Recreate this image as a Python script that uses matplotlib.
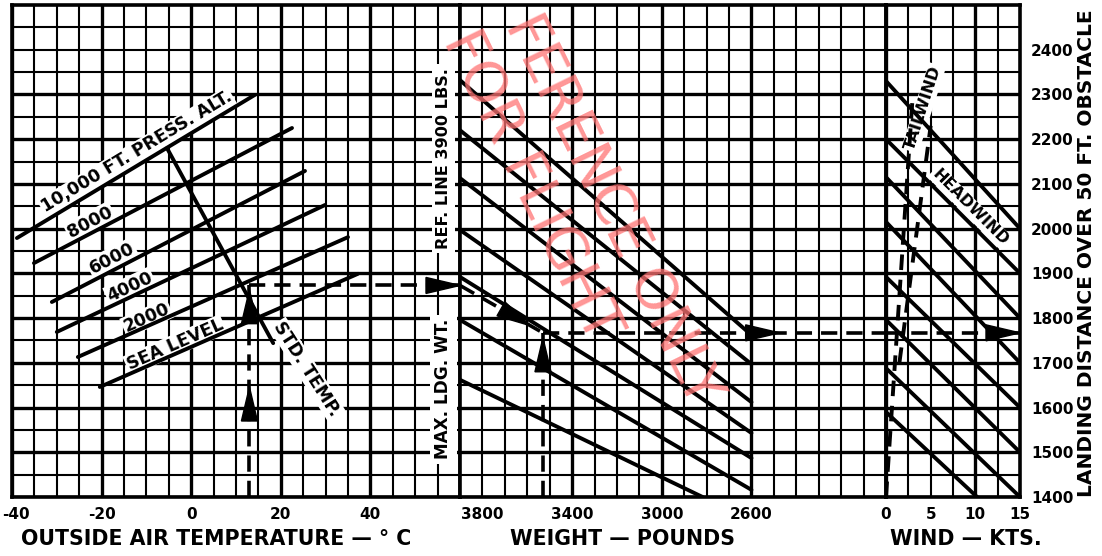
import matplotlib
matplotlib.use("Agg")
import matplotlib.pyplot as plt
from matplotlib.patches import Polygon
from matplotlib.transforms import IdentityTransform, ScaledTranslation
import numpy as np

plt.rcParams['font.family'] = ['DejaVu Sans']

# ---------------- data ----------------
dist_lim = (1400, 2500)
dist_ticks = [1400, 1500, 1600, 1700, 1800, 1900, 2000, 2100, 2200, 2300, 2400]

temp_lim = (-40, 60)
temp_ticks = [-40, -20, 0, 20, 40]
weight_lim = (3900, 2000)
weight_ticks = [3800, 3400, 3000, 2600]
wind_lim = (0, 15)
wind_ticks = [0, 5, 10, 15]

# pressure altitude lines (temperature, distance at reference line)
alt_names = ["SEA LEVEL", "2000", "4000", "6000", "8000", "10,000 FT. PRESS. ALT."]
alt_t_start = [-20.4, -25.3, -30.0, -31.1, -35.1, -38.9]
alt_d_start = [1646, 1713, 1769, 1836, 1923, 1979]
alt_t_end = [37.2, 35.0, 29.9, 25.4, 22.5, 14.2]
alt_d_end = [1899, 1981, 2053, 2129, 2225, 2299]
alt_label_t = [-3.6, -9.9, -13.7, -17.7, -22.6, -12.1]
alt_label_d = [1740, 1800, 1870, 1934, 2015, 2171]

std_temp_t = [-5.4, 18.3]
std_temp_d = [2180, 1744]

# weight guide lines (start at 3900 lb reference line)
wt_d_start = [2332, 2220, 2113, 1997, 1892, 1796, 1662]
wt_w_end = [2600, 2600, 2600, 2600, 2600, 2600, 2818]
wt_d_end = [1762, 1697, 1612, 1543, 1487, 1416, 1400]

# headwind lines (start at 0 kt)
hw_d_start = [2330, 2200, 2115, 2015, 1892, 1796, 1688, 1590]
hw_kt_end = [15, 15, 15, 15, 15, 15, 15, 10.2]
hw_d_end = [2000, 1900, 1800, 1700, 1600, 1500, 1400, 1400]

# tailwind lines (dashed)
tw_kt_start = [0.0, 1.5]
tw_d_start = [1400, 1700]
tw_kt_end = [3.0, 5.0]
tw_d_end = [2300, 2230]

# example
ex_temp = 13
ex_ref_dist = 1873
ex_weight = 3530
ex_dist = 1767

# ---------------- figure ----------------
W, H = 1102, 556
fig = plt.figure(figsize=(W / 100, H / 100), dpi=100)
fig.patch.set_facecolor('white')


def px_axes(x0, x1, y0, y1):
    return fig.add_axes([x0 / W, 1 - y1 / H, (x1 - x0) / W, (y1 - y0) / H])


ax_t = px_axes(12, 460, 5, 497)
ax_w = px_axes(460, 886, 5, 497)
ax_k = px_axes(886, 1020, 5, 497)

GMIN = 1.5
GMAJ = 2.4
LW = 2.8

for ax, lim in ((ax_t, temp_lim), (ax_w, weight_lim), (ax_k, wind_lim)):
    ax.set_xlim(*lim)
    ax.set_ylim(*dist_lim)
    for s in ax.spines.values():
        s.set_linewidth(2.6)
        s.set_zorder(6)
    ax.tick_params(axis='both', length=0)
    ax.set_yticks([])
    for y in np.arange(1400, 2501, 50):
        ax.axhline(y, color='k', lw=GMAJ if (y % 100 == 0 and y < 2400) else GMIN, zorder=1)

# vertical grid
for x in np.arange(-40, 60, 5):
    ax_t.axvline(x, color='k', lw=GMAJ if x % 20 == 0 else GMIN, zorder=1)
for x in np.arange(3900, 2000, -100):
    ax_w.axvline(x, color='k', lw=GMAJ if x in (3400, 3000, 2600) else GMIN, zorder=1)
for x in np.arange(0, 15, 2.5):
    ax_k.axvline(x, color='k', lw=GMAJ if x in (0, 10) else GMIN, zorder=1)

# ticks
tick_font = dict(fontsize=11, fontweight='bold')
ax_t.set_xticks(temp_ticks)
ax_t.set_xticklabels([str(v) for v in temp_ticks], **tick_font)
ax_w.set_xticks(weight_ticks)
ax_w.set_xticklabels([str(v) for v in weight_ticks], **tick_font)
ax_k.set_xticks(wind_ticks)
ax_k.set_xticklabels([str(v) for v in wind_ticks], **tick_font)
for ax in (ax_t, ax_w, ax_k):
    ax.tick_params(axis='x', pad=7)
ax_k.yaxis.tick_right()
ax_k.set_yticks(dist_ticks)
ax_k.set_yticklabels([str(v) for v in dist_ticks], **tick_font)
ax_k.tick_params(axis='y', pad=8, length=0)
# keep the leftmost temperature label inside the picture
first = ax_t.get_xticklabels()[0]
first.set_transform(first.get_transform() + ScaledTranslation(3 / 72, 0, fig.dpi_scale_trans))


def angle_of(ax, p0, p1):
    a = ax.transData.transform(p0)
    b = ax.transData.transform(p1)
    return np.degrees(np.arctan2(b[1] - a[1], b[0] - a[0]))


white = dict(facecolor='white', edgecolor='none', pad=1.0)
lab_font = dict(fontsize=12.5, fontweight='bold')

# altitude lines
for i, name in enumerate(alt_names):
    ax_t.plot([alt_t_start[i], alt_t_end[i]], [alt_d_start[i], alt_d_end[i]],
              color='k', lw=LW, solid_capstyle='round', zorder=3)
    ang = angle_of(ax_t, (alt_t_start[i], alt_d_start[i]), (alt_t_end[i], alt_d_end[i]))
    ax_t.text(alt_label_t[i], alt_label_d[i], name, rotation=ang, rotation_mode='anchor',
              ha='center', va='center', bbox=white, zorder=2, **lab_font)

ax_t.plot(std_temp_t, std_temp_d, color='k', lw=LW, solid_capstyle='round', zorder=3)
ang = angle_of(ax_t, (std_temp_t[0], std_temp_d[0]), (std_temp_t[1], std_temp_d[1]))
ax_t.text(25.8, 1686, "STD. TEMP.", rotation=ang + 4, rotation_mode='anchor',
          ha='center', va='center', bbox=white, zorder=2, **lab_font)

side_box = dict(facecolor='white', edgecolor='none', pad=3)
ax_t.text(56.3, 2156, "REF. LINE 3900 LBS.", rotation=90, ha='center', va='center',
          fontsize=11.6, fontweight='bold', bbox=side_box, zorder=2)
ax_t.text(56.3, 1641, "MAX. LDG. WT.", rotation=90, ha='center', va='center',
          fontsize=12.2, fontweight='bold', bbox=side_box, zorder=2)

# weight lines
for d0, w1, d1 in zip(wt_d_start, wt_w_end, wt_d_end):
    ax_w.plot([3900, w1], [d0, d1], color='k', lw=LW, solid_capstyle='round', zorder=3)

# wind lines
for d0, k1, d1 in zip(hw_d_start, hw_kt_end, hw_d_end):
    ax_k.plot([0, k1], [d0, d1], color='k', lw=LW, solid_capstyle='round', zorder=3)
for k0, d0, k1, d1 in zip(tw_kt_start, tw_d_start, tw_kt_end, tw_d_end):
    ax_k.plot([k0, k1], [d0, d1], color='k', lw=LW, ls=(0, (4, 2.5)), zorder=3)

ang = angle_of(ax_k, (0, hw_d_start[1]), (15, hw_d_end[1]))
ax_k.text(9.4, 2048, "HEADWIND", rotation=ang, rotation_mode='anchor', ha='center',
          va='center', bbox=white, zorder=2, fontsize=11.5, fontweight='bold')
ax_k.text(4.2, 2270, "TAILWIND", rotation=72, rotation_mode='anchor', ha='center',
          va='center', bbox=white, zorder=2, fontsize=11.5, fontweight='bold')

# example path
DASH = (0, (4.5, 2.5))


def dashed(ax, xs, ys):
    ax.plot(xs, ys, color='k', lw=2.6, ls=DASH, zorder=4)


def arrowhead(ax, p_from, p_to, frac, length=34, half=8):
    a = ax.transData.transform(p_from)
    b = ax.transData.transform(p_to)
    u = (b - a) / np.hypot(*(b - a))
    n = np.array([-u[1], u[0]])
    tip = a + (b - a) * frac
    base = tip - u * length
    verts = [tip, base + n * half, base - n * half]
    ax.add_patch(Polygon(verts, closed=True, transform=IdentityTransform(),
                         facecolor='k', edgecolor='k', lw=1, zorder=5, clip_on=False))


dashed(ax_t, [ex_temp, ex_temp], [1400, ex_ref_dist])
dashed(ax_t, [ex_temp, 60], [ex_ref_dist, ex_ref_dist])
arrowhead(ax_t, (ex_temp, 1400), (ex_temp, ex_ref_dist), 0.52)
arrowhead(ax_t, (ex_temp, 1400), (ex_temp, ex_ref_dist), 0.98)
arrowhead(ax_t, (ex_temp, ex_ref_dist), (60, ex_ref_dist), 1.0)

dashed(ax_w, [3900, ex_weight], [ex_ref_dist, ex_dist])
arrowhead(ax_w, (3900, ex_ref_dist), (ex_weight, ex_dist), 0.85)
dashed(ax_w, [ex_weight, ex_weight], [1400, ex_dist])
arrowhead(ax_w, (ex_weight, 1400), (ex_weight, ex_dist), 0.97)
dashed(ax_w, [ex_weight, 2000], [ex_dist, ex_dist])
arrowhead(ax_w, (ex_weight, ex_dist), (2000, ex_dist), 0.69)
dashed(ax_k, [0, 15], [ex_dist, ex_dist])
arrowhead(ax_k, (0, ex_dist), (15, ex_dist), 1.0)

# axis titles
title_font = dict(fontsize=14.8, fontweight='bold')
fig.text(216 / W, 1 - 539 / H, "OUTSIDE AIR TEMPERATURE — ° C", ha='center', va='center', **title_font)
fig.text(623 / W, 1 - 539 / H, "WEIGHT — POUNDS", ha='center', va='center', **title_font)
fig.text(966 / W, 1 - 539 / H, "WIND — KTS.", ha='center', va='center', **title_font)
fig.text(1087 / W, 1 - 253 / H, "LANDING DISTANCE OVER 50 FT. OBSTACLE", rotation=90,
         ha='center', va='center', fontsize=14.5, fontweight='bold')

# watermark
wm = dict(color='#ff7373', alpha=0.75, fontsize=41, ha='center', va='center',
          rotation=-64, rotation_mode='anchor', zorder=7)
fig.text(612 / W, 1 - 210 / H, "FERENCE ONLY", **wm)
fig.text(530 / W, 1 - 186 / H, "FOR FLIGHT", **wm)

fig.savefig("out.png", dpi=100)
